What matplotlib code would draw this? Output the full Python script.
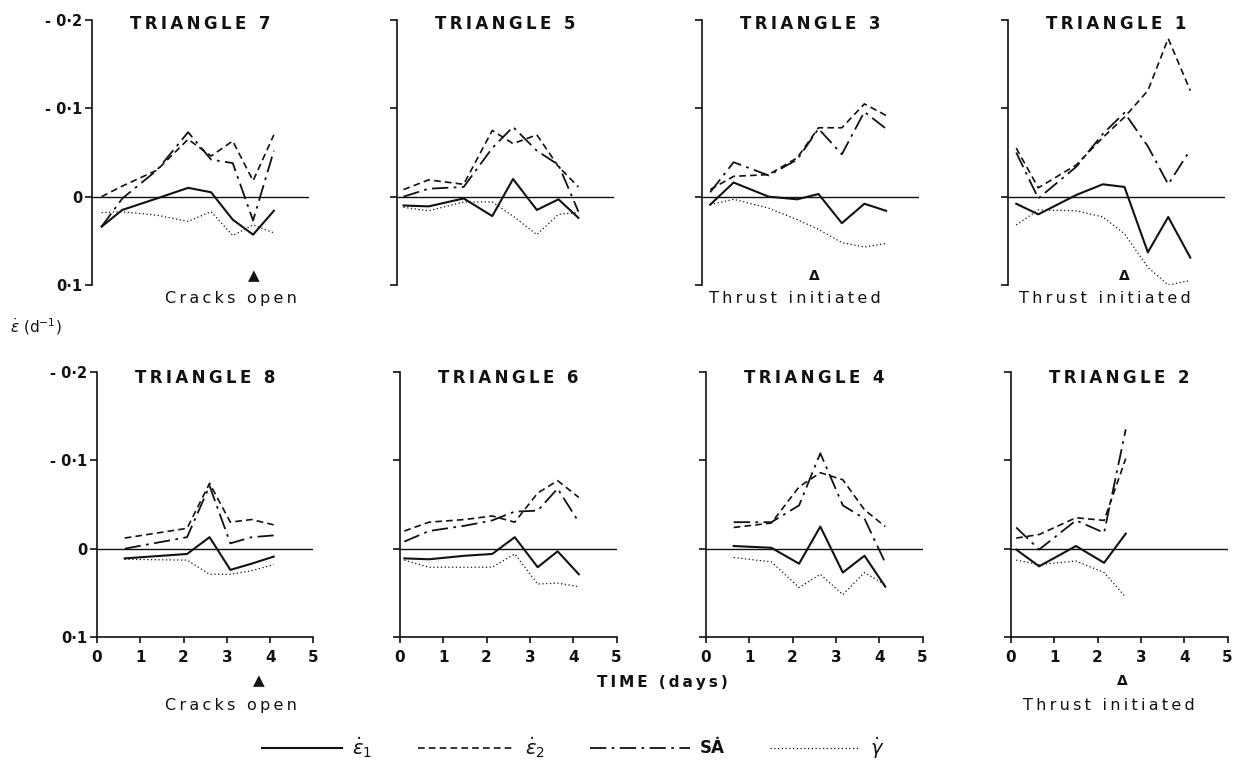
import matplotlib
matplotlib.use('Agg')
import matplotlib.pyplot as plt
from matplotlib.lines import Line2D

# strain rates (d^-1), axis runs -0.2 (top) to 0.1 (bottom)
t_tri7 = [0.22, 0.70, 1.50, 2.22, 2.75, 3.25, 3.72, 4.20]
e1_tri7 = [0.034, 0.015, 0.002, -0.010, -0.005, 0.026, 0.043, 0.016]
e2_tri7 = [0.0, -0.012, -0.030, -0.065, -0.046, -0.063, -0.018, -0.070]
sa_tri7 = [0.034, 0.002, -0.030, -0.073, -0.042, -0.038, 0.027, -0.052]
g_tri7 = [0.018, 0.017, 0.021, 0.028, 0.017, 0.044, 0.032, 0.041]

t_tri5 = [0.15, 0.73, 1.54, 2.20, 2.68, 3.23, 3.73, 4.19]
e1_tri5 = [0.010, 0.011, 0.002, 0.022, -0.020, 0.015, 0.003, 0.024]
e2_tri5 = [-0.008, -0.019, -0.014, -0.075, -0.060, -0.070, -0.034, -0.011]
sa_tri5 = [0.0, -0.009, -0.011, -0.055, -0.079, -0.052, -0.036, 0.017]
g_tri5 = [0.012, 0.016, 0.006, 0.006, 0.022, 0.043, 0.020, 0.018]

t_tri3 = [0.19, 0.73, 1.54, 2.20, 2.69, 3.23, 3.75, 4.25]
e1_tri3 = [0.009, -0.016, 0.0, 0.003, -0.003, 0.030, 0.008, 0.016]
e2_tri3 = [-0.008, -0.023, -0.025, -0.044, -0.078, -0.078, -0.105, -0.092]
sa_tri3 = [-0.005, -0.039, -0.024, -0.042, -0.077, -0.048, -0.096, -0.077]
g_tri3 = [0.009, 0.003, 0.013, 0.026, 0.037, 0.052, 0.057, 0.053]

t_tri1 = [0.19, 0.70, 1.58, 2.19, 2.69, 3.23, 3.70, 4.21]
e1_tri1 = [0.008, 0.020, -0.002, -0.014, -0.011, 0.063, 0.023, 0.069]
e2_tri1 = [-0.055, -0.010, -0.036, -0.067, -0.090, -0.120, -0.179, -0.120]
sa_tri1 = [-0.050, 0.002, -0.034, -0.071, -0.095, -0.057, -0.014, -0.053]
g_tri1 = [0.032, 0.015, 0.016, 0.023, 0.042, 0.080, 0.100, 0.095]

t_tri8 = [0.64, 2.08, 2.60, 3.08, 3.57, 4.08]
e1_tri8 = [0.011, 0.006, -0.013, 0.024, 0.017, 0.009]
e2_tri8 = [-0.012, -0.023, -0.074, -0.030, -0.033, -0.027]
sa_tri8 = [0.0, -0.013, -0.071, -0.006, -0.013, -0.015]
g_tri8 = [0.012, 0.013, 0.029, 0.029, 0.025, 0.018]

t_tri6 = [0.10, 0.67, 1.50, 2.13, 2.65, 3.18, 3.64, 4.13]
e1_tri6 = [0.011, 0.012, 0.008, 0.006, -0.013, 0.021, 0.003, 0.029]
e2_tri6 = [-0.020, -0.030, -0.033, -0.037, -0.030, -0.063, -0.077, -0.058]
sa_tri6 = [-0.008, -0.020, -0.026, -0.032, -0.042, -0.043, -0.068, -0.030]
g_tri6 = [0.013, 0.021, 0.021, 0.021, 0.006, 0.040, 0.039, 0.043]

t_tri4 = [0.64, 1.51, 2.15, 2.64, 3.16, 3.66, 4.14]
e1_tri4 = [-0.003, -0.001, 0.017, -0.025, 0.027, 0.008, 0.043]
e2_tri4 = [-0.024, -0.029, -0.070, -0.086, -0.078, -0.044, -0.025]
sa_tri4 = [-0.030, -0.030, -0.049, -0.108, -0.049, -0.034, 0.016]
g_tri4 = [0.010, 0.015, 0.044, 0.029, 0.052, 0.027, 0.041]

t_tri2 = [0.12, 0.65, 1.50, 2.15, 2.65]
e1_tri2 = [0.001, 0.020, -0.003, 0.016, -0.017]
e2_tri2 = [-0.012, -0.016, -0.035, -0.032, -0.102]
sa_tri2 = [-0.024, 0.001, -0.032, -0.018, -0.135]
g_tri2 = [0.013, 0.018, 0.014, 0.027, 0.055]

yticks = [-0.2, -0.1, 0.0, 0.1]
ytick_labels = ['- 0\u00b72', '- 0\u00b71', '0', '0\u00b71']
xticks = [0, 1, 2, 3, 4, 5]

# events: (marker time, symbol, text time, text)
ev_cracks7 = (3.74, '\u25b2', 3.2, 'Cracks open')
ev_thrust3 = (2.59, '\u0394', 2.15, 'Thrust initiated')
ev_thrust1 = (2.68, '\u0394', 2.24, 'Thrust initiated')
ev_cracks8 = (3.74, '\u25b2', 3.1, 'Cracks open')
ev_thrust2 = (2.57, '\u0394', 2.27, 'Thrust initiated')

panels = [
    ('TRIANGLE 7', t_tri7, e1_tri7, e2_tri7, sa_tri7, g_tri7, ev_cracks7),
    ('TRIANGLE 5', t_tri5, e1_tri5, e2_tri5, sa_tri5, g_tri5, None),
    ('TRIANGLE 3', t_tri3, e1_tri3, e2_tri3, sa_tri3, g_tri3, ev_thrust3),
    ('TRIANGLE 1', t_tri1, e1_tri1, e2_tri1, sa_tri1, g_tri1, ev_thrust1),
    ('TRIANGLE 8', t_tri8, e1_tri8, e2_tri8, sa_tri8, g_tri8, ev_cracks8),
    ('TRIANGLE 6', t_tri6, e1_tri6, e2_tri6, sa_tri6, g_tri6, None),
    ('TRIANGLE 4', t_tri4, e1_tri4, e2_tri4, sa_tri4, g_tri4, None),
    ('TRIANGLE 2', t_tri2, e1_tri2, e2_tri2, sa_tri2, g_tri2, ev_thrust2),
]

ink = '#111111'
styles = [
    dict(ls='-', lw=1.5),
    dict(ls=(0, (4, 2.5)), lw=1.2),
    dict(ls=(0, (9, 3, 1.5, 3)), lw=1.3),
    dict(ls=(0, (1, 2)), lw=0.9),
]

plt.rcParams['font.family'] = ['DejaVu Sans']


def spaced(s):
    return '\u2009'.join(s)


W, H = 1233, 773
fig = plt.figure(figsize=(W / 100, H / 100), dpi=100)

lefts_top = [92, 397, 702, 1008]
lefts_bot = [97, 400, 706, 1011]
span = 216.5

for i, (name, t, e1, e2, sa, g, ev) in enumerate(panels):
    row, col = divmod(i, 4)
    if row == 0:
        left, top, bot = lefts_top[col], 20, 285
    else:
        left, top, bot = lefts_bot[col], 372, 637
    ax = fig.add_axes([left / W, 1 - bot / H, span / W, (bot - top) / H])
    ax.set_xlim(0, 5)
    ax.set_ylim(0.1, -0.2)
    ax.patch.set_alpha(0)
    for s in ['top', 'right']:
        ax.spines[s].set_visible(False)
    ax.spines['left'].set_linewidth(1.2)
    ax.spines['left'].set_color(ink)

    ax.axhline(0, color=ink, lw=1.0)
    for vals, st in zip([e1, e2, sa, g], styles):
        ax.plot(t, vals, color=ink, **st)

    ax.set_yticks(yticks)
    ax.tick_params(axis='y', direction='out', length=5, width=1.2, pad=2, colors=ink)
    if col == 0:
        ax.set_yticklabels(ytick_labels, fontsize=10.5, fontweight='bold')
    else:
        ax.set_yticklabels([])

    if row == 1:
        ax.spines['bottom'].set_linewidth(1.2)
        ax.spines['bottom'].set_color(ink)
        ax.set_xticks(xticks)
        ax.set_xticklabels([str(x) for x in xticks], fontsize=11, fontweight='bold')
        ax.tick_params(axis='x', direction='out', length=4, width=1.2, pad=5, colors=ink)
    else:
        ax.spines['bottom'].set_visible(False)
        ax.set_xticks([])

    ty = 0.985 if row == 0 else 0.977
    ax.text(0.5, ty, spaced(name), transform=ax.transAxes, ha='center', va='center',
            fontsize=12, fontweight='bold', color=ink)

    if ev is not None:
        mt, sym, tt, label = ev
        trans = ax.get_xaxis_transform()
        if row == 0:
            my, ly = 0.034, -0.05
        else:
            my, ly = -0.166, -0.257
        ax.text(mt, my, sym, transform=trans, ha='center', va='center',
                fontsize=11 if sym == '\u25b2' else 10, fontweight='bold', color=ink,
                clip_on=False)
        ax.text(tt, ly, spaced(label), transform=trans, ha='center', va='center',
                fontsize=11.5, color=ink, clip_on=False)

fig.text(10 / W, 1 - 327 / H, r'$\dot{\varepsilon}$ (d$^{-1}$)', fontsize=11,
         ha='left', va='center', color=ink)
fig.text(662 / W, 1 - 683 / H, spaced('TIME (days)'), fontsize=11, fontweight='bold',
         ha='center', va='center', color=ink)

# legend row along the bottom
legend_y = 1 - 748 / H
legend_items = [
    (262, 342, r'$\dot{\varepsilon}_1$'),
    (418, 515, r'$\dot{\varepsilon}_2$'),
    (590, 690, 'S\u0226'),
    (770, 860, r'$\dot{\gamma}$'),
]
for (x0, x1, lab), st in zip(legend_items, styles):
    fig.add_artist(Line2D([x0 / W, x1 / W], [legend_y, legend_y], color=ink,
                          transform=fig.transFigure, **st))
    fig.text((x1 + 10) / W, legend_y, lab, fontsize=14 if '$' in lab else 12,
             fontweight='bold', ha='left', va='center', color=ink)

fig.savefig('out.png', dpi=100, facecolor='white')
